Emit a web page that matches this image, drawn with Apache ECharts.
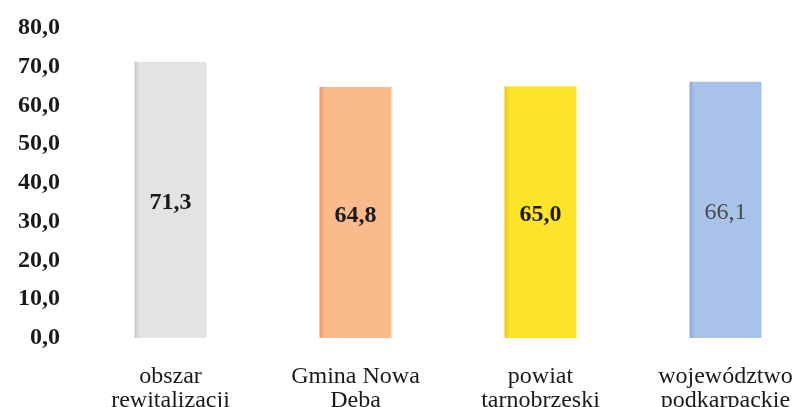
<!DOCTYPE html>
<html>
<head>
<meta charset="utf-8">
<script src="https://cdn.jsdelivr.net/npm/echarts@6/dist/echarts.min.js"></script>
<style>html,body{margin:0;padding:0;background:#fff}#c{width:792px;height:407px}</style>
</head>
<body>
<div id="c"></div>
<script>
var categories = ['obszar\nrewitalizacji', 'Gmina Nowa\nDęba', 'powiat\ntarnobrzeski', 'województwo\npodkarpackie'];
var values = [71.3, 64.8, 65.0, 66.1];
var yTicks = [0, 10, 20, 30, 40, 50, 60, 70, 80];
var barColors = [['#c9c9c9', '#e3e3e3'], ['#f09270', '#f9bb8c'], ['#f2c21e', '#fce42a'], ['#8eaadd', '#a8c2ea']];
var labelColors = ['#1a1a1a', '#1a1a1a', '#1a1a1a', '#4a4a4a'];
var labelWeights = ['bold', 'bold', 'bold', 'normal'];

function fmt(v){ return v.toFixed(1).replace('.', ','); }

var chart = echarts.init(document.getElementById('c'));
chart.setOption({
  animation: false,
  grid: { left: 78, top: 28, width: 740, height: 310, outerBoundsMode: 'none', containLabel: false },
  xAxis: {
    type: 'category',
    data: categories,
    axisLine: { show: false },
    axisTick: { show: false },
    axisLabel: {
      color: '#1a1a1a', fontFamily: 'Liberation Serif', fontSize: 24,
      lineHeight: 24, margin: 27, interval: 0, hideOverlap: false
    }
  },
  yAxis: {
    type: 'value', min: yTicks[0], max: yTicks[yTicks.length - 1], interval: 10,
    splitLine: { show: false },
    axisLine: { show: false },
    axisTick: { show: false },
    axisLabel: {
      color: '#1a1a1a', fontFamily: 'Liberation Serif', fontWeight: 'bold', fontSize: 24,
      margin: 18, formatter: function(v){ return fmt(v); }
    }
  },
  series: [{
    type: 'bar',
    barWidth: 72,
    data: values.map(function(v, i){
      return {
        value: v,
        itemStyle: {
          color: {
            type: 'linear', x: 0, y: 0, x2: 1, y2: 0,
            colorStops: [
              { offset: 0, color: barColors[i][0] },
              { offset: 0.07, color: barColors[i][1] },
              { offset: 1, color: barColors[i][1] }
            ]
          }
        },
        label: { color: labelColors[i], fontWeight: labelWeights[i] }
      };
    }),
    label: {
      show: true, position: 'inside', offset: [0, 3],
      fontFamily: 'Liberation Serif', fontSize: 24,
      formatter: function(p){ return fmt(p.value); }
    }
  }]
});
</script>
</body>
</html>
